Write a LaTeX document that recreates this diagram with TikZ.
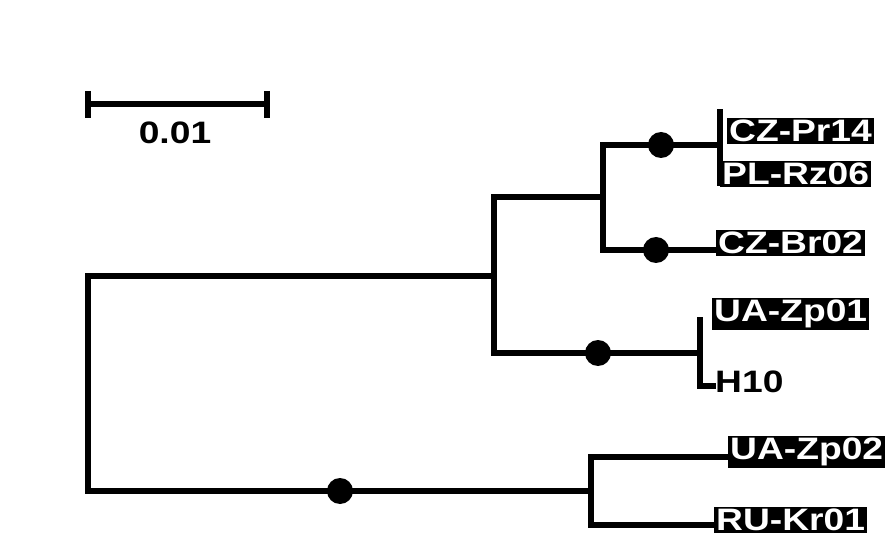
\documentclass[tikz,border=0pt]{standalone}
\usepackage{fontspec}
\setmainfont{Liberation Sans}
\newfontfamily\treefont[FakeStretch=1.2]{Liberation Sans}
\usetikzlibrary{positioning}

\begin{document}
\begin{tikzpicture}[
    x=1pt, y=-1pt,
    branch/.style={line width=5.5pt, line cap=rect},
    support/.style={circle, fill=black, minimum size=26pt, inner sep=0pt},
    taxon/.style={fill=black, text=white, font=\treefont\fontsize{31}{32}\selectfont\bfseries, inner sep=2pt, anchor=west},
    plain/.style={text=black, font=\treefont\fontsize{31}{32}\selectfont\bfseries, inner sep=2pt, anchor=west}
]
    \useasboundingbox (0,0) rectangle (894,537);

    % Scale bar
    \coordinate (sbl) at (88,104);
    \coordinate (sbr) at (267,104);
    \draw[branch] (sbl) -- (sbr);
    \draw[line width=5.5pt] (88,91) -- (88,118) (267,91) -- (267,118);
    \node[plain, anchor=center] (scale) at (175,133) {0.01};

    % Internal nodes
    \coordinate (root) at (88,276);
    \coordinate (n1) at (494,276);
    \coordinate (n2) at (603,197);
    \coordinate (n3) at (720,145);
    \coordinate (n4) at (700,353);
    \coordinate (n5) at (591,491);

    % Tips
    \node[taxon] (pr14) at (727,131) {CZ-Pr14};
    \node[taxon] (rz06) at (720,174) {PL-Rz06};
    \node[taxon] (br02) at (716,243) {CZ-Br02};
    \node[taxon] (zp01) at (712,314) {UA-Zp01};
    \node[plain] (h10) at (713,382) {H10};
    \node[taxon] (zp02) at (728,452) {UA-Zp02};
    \node[taxon] (kr01) at (714,520) {RU-Kr01};

    % Branches
    \draw[branch] (88,276) -- (88,491);
    \draw[branch] (root) -- (n1);
    \draw[branch] (494,197) -- (494,353);
    \draw[branch] (494,197) -- (n2);
    \draw[branch] (603,145) -- (603,250);
    \draw[branch] (603,145) -- (n3);
    \draw[branch] (720,112) -- (720,183);
    \draw[branch] (603,250) -- (br02.west |- 0,250);
    \draw[branch] (494,353) -- (n4);
    \draw[branch] (700,320) -- (700,386) -- (h10.west |- 0,386);
    \draw[branch] (88,491) -- (n5);
    \draw[branch] (591,457) -- (591,525);
    \draw[branch] (591,457) -- (zp02.west |- 0,457);
    \draw[branch] (591,525) -- (kr01.west |- 0,525);

    % Support dots
    \node[support] (s1) at (661,145) {};
    \node[support] (s2) at (656,250) {};
    \node[support] (s3) at (598,353) {};
    \node[support] (s4) at (340,491) {};
\end{tikzpicture}
\end{document}
